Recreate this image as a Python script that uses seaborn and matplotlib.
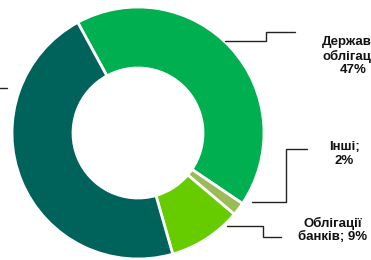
import matplotlib
matplotlib.use("Agg")
import matplotlib.pyplot as plt
import seaborn as sns

# --- data (shares, labels as printed) ---
categories = ["Державні облігації", "Інші", "Облігації банків", "Інше (ліворуч)"]
shares = [42.4, 1.7, 9.4, 46.5]
label_texts = ["Державні\nоблігації;\n47%", "Інші;\n2%", "Облігації\nбанків; 9%"]
colors = ["#00B050", "#9BBB59", "#66CC00", "#00635B"]

W, H = 371, 260

sns.set_style("white")
plt.rcParams["font.family"] = ["Liberation Sans", "DejaVu Sans"]

fig = plt.figure(figsize=(W / 100, H / 100), dpi=100)
ax = fig.add_axes([0, 0, 1, 1])

# donut, pixel coordinates (y flipped so that 0 is the bottom)
cx, cy, r = 138, H - 133, 126
ax.pie(shares, colors=colors, startangle=118.6, counterclock=False,
       center=(cx, cy), radius=r,
       wedgeprops=dict(width=61, edgecolor="white", linewidth=2))

ax.set_xlim(0, W)
ax.set_ylim(0, H)
ax.set_aspect("equal")
ax.axis("off")

def py(y):
    return H - y

# leader lines (layout, in pixels from the top-left)
leaders = [
    [(225, 41), (266, 41), (266, 32), (295, 32)],
    [(252, 202), (286, 202), (286, 149), (307, 149)],
    [(227, 226), (263, 226), (263, 237), (281, 237)],
    [(-10, 88), (7, 88)],
]
for pts in leaders:
    ax.plot([p[0] for p in pts], [py(p[1]) for p in pts],
            color="#222222", lw=1, solid_joinstyle="miter", clip_on=False)

label_pos = [(353, 56), (344, 154), (333, 230)]
for txt, (x, y) in zip(label_texts, label_pos):
    ax.text(x, py(y), txt, ha="center", va="center", multialignment="center",
            fontsize=9.5, fontweight="bold", color="#111111", linespacing=1.2)

fig.savefig("out.png", dpi=100)
